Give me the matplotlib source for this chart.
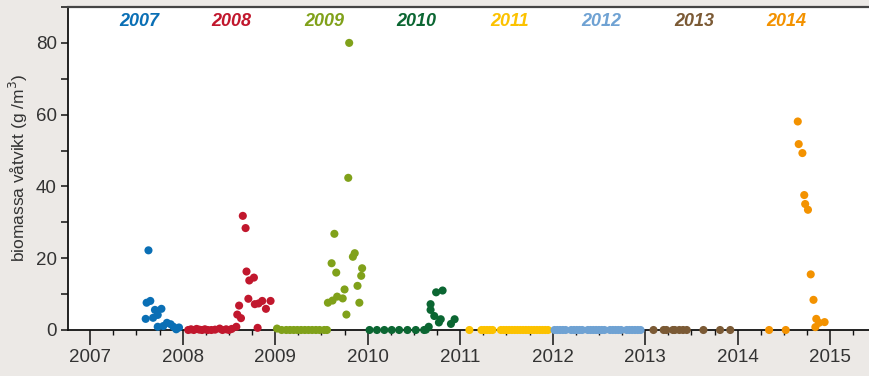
import matplotlib.pyplot as plt
from matplotlib.ticker import MultipleLocator

# sampling dates (decimal year) and biomass per season
t2007 = [2007.60, 2007.61, 2007.63, 2007.65, 2007.68, 2007.70, 2007.73, 2007.73, 2007.77,
         2007.79, 2007.83, 2007.87, 2007.90, 2007.93, 2007.96]
v2007 = [3.1, 7.6, 22.2, 8.1, 3.4, 5.6, 4.2, 0.9, 5.9, 1.1, 2.0, 1.6, 0.9, 0.2, 0.7]

t2008 = [2008.06, 2008.09, 2008.12, 2008.15, 2008.18, 2008.21, 2008.24, 2008.27, 2008.31,
         2008.35, 2008.40, 2008.43, 2008.47, 2008.50, 2008.53, 2008.58, 2008.59, 2008.61,
         2008.63, 2008.65, 2008.68, 2008.69, 2008.71, 2008.72, 2008.77, 2008.78, 2008.81,
         2008.82, 2008.86, 2008.90, 2008.95]
v2008 = [0.0, 0.2, 0.0, 0.3, 0.1, 0.0, 0.2, 0.0, 0.0, 0.1, 0.4, 0.0, 0.2, 0.0, 0.3, 0.9,
         4.3, 6.8, 3.3, 31.8, 28.4, 16.3, 8.7, 13.8, 14.6, 7.2, 0.6, 7.4, 8.1, 5.9, 8.1]

t2009 = [2009.02, 2009.07, 2009.12, 2009.16, 2009.20, 2009.24, 2009.28, 2009.32, 2009.36,
         2009.40, 2009.44, 2009.48, 2009.53, 2009.56, 2009.57, 2009.61, 2009.62, 2009.64,
         2009.66, 2009.67, 2009.73, 2009.75, 2009.77, 2009.79, 2009.80, 2009.84, 2009.86,
         2009.89, 2009.91, 2009.93, 2009.94]
v2009 = [0.4, 0.0, 0.0, 0.0, 0.0, 0.0, 0.0, 0.0, 0.0, 0.0, 0.0, 0.0, 0.0, 0.0, 7.6, 18.6,
         8.2, 26.8, 16.0, 9.3, 8.8, 11.3, 4.3, 42.4, 80.0, 20.4, 21.4, 12.3, 7.6, 15.1, 17.2]

t2010 = [2010.02, 2010.10, 2010.18, 2010.26, 2010.34, 2010.43, 2010.52, 2010.61, 2010.63,
         2010.66, 2010.68, 2010.68, 2010.72, 2010.74, 2010.77, 2010.79, 2010.81, 2010.90,
         2010.94]
v2010 = [0.0, 0.0, 0.0, 0.0, 0.0, 0.0, 0.0, 0.0, 0.1, 0.9, 7.2, 5.6, 3.9, 10.5, 2.1, 3.0,
         11.0, 1.7, 3.0]

t2011 = [2011.10, 2011.23, 2011.26, 2011.29, 2011.32, 2011.35, 2011.44, 2011.47, 2011.50,
         2011.53, 2011.56, 2011.59, 2011.62, 2011.65, 2011.68, 2011.71, 2011.74, 2011.77,
         2011.80, 2011.83, 2011.86, 2011.89, 2011.92, 2011.95]
v2011 = [0.0] * 24

t2012 = [2012.02, 2012.05, 2012.08, 2012.11, 2012.14, 2012.20, 2012.23, 2012.26, 2012.29,
         2012.32, 2012.38, 2012.41, 2012.44, 2012.47, 2012.50, 2012.53, 2012.56, 2012.62,
         2012.65, 2012.68, 2012.71, 2012.74, 2012.80, 2012.83, 2012.86, 2012.89, 2012.92,
         2012.95]
v2012 = [0.0] * 28

t2013 = [2013.09, 2013.20, 2013.23, 2013.30, 2013.32, 2013.37, 2013.41, 2013.45, 2013.63,
         2013.81, 2013.92]
v2013 = [0.0] * 11

t2014 = [2014.34, 2014.52, 2014.65, 2014.66, 2014.70, 2014.72, 2014.73, 2014.76, 2014.79,
         2014.82, 2014.84, 2014.85, 2014.88, 2014.94]
v2014 = [0.0, 0.0, 58.1, 51.8, 49.3, 37.6, 35.1, 33.5, 15.5, 8.4, 0.8, 3.1, 2.0, 2.2]

years = [2007, 2008, 2009, 2010, 2011, 2012, 2013, 2014]
colors = ["#0a6fb5", "#c1172d", "#80a11a", "#0b6632", "#fcc200", "#6fa2d3", "#7b5a35", "#f39200"]
times = [t2007, t2008, t2009, t2010, t2011, t2012, t2013, t2014]
values = [v2007, v2008, v2009, v2010, v2011, v2012, v2013, v2014]

plt.rcParams["font.family"] = ["Liberation Sans", "DejaVu Sans"]

fig = plt.figure(figsize=(8.69, 3.76), dpi=100, facecolor="#ece9e6")
ax = fig.add_axes([68 / 869, 46 / 376, 801 / 869, 323 / 376])
ax.set_facecolor("white")

for yr, c, t, v in zip(years, colors, times, values):
    ax.scatter(t, v, s=34, color=c, edgecolors="none", zorder=3, clip_on=False)
    ax.text(yr + 0.53, 85.9, str(yr), color=c, fontsize=13, fontweight="bold",
            fontstyle="italic", ha="center", va="center")

ax.set_xlim(2006.76, 2015.42)
ax.set_ylim(0, 90)
ax.xaxis.set_major_locator(MultipleLocator(1))
ax.xaxis.set_minor_locator(MultipleLocator(0.25))
ax.yaxis.set_major_locator(MultipleLocator(20))
ax.yaxis.set_minor_locator(MultipleLocator(10))

ax.spines["right"].set_visible(False)
ax.spines["top"].set_color("#444444")
ax.spines["top"].set_linewidth(1.6)
for side in ("left", "bottom"):
    ax.spines[side].set_color("#111111")
    ax.spines[side].set_linewidth(1.3)

ax.tick_params(axis="x", which="major", length=11, width=1.1, pad=3,
               labelsize=13.5, labelcolor="#333333", color="#111111")
ax.tick_params(axis="x", which="minor", length=3.5, width=1.0, color="#111111")
ax.tick_params(axis="y", which="both", length=5, width=1.1, pad=3,
               labelsize=13.5, labelcolor="#333333", color="#111111")

ax.set_ylabel("biomassa våtvikt (g /m$^3$)", fontsize=12.5, color="#333333", labelpad=4)

fig.savefig("out.png", dpi=100, facecolor=fig.get_facecolor())
